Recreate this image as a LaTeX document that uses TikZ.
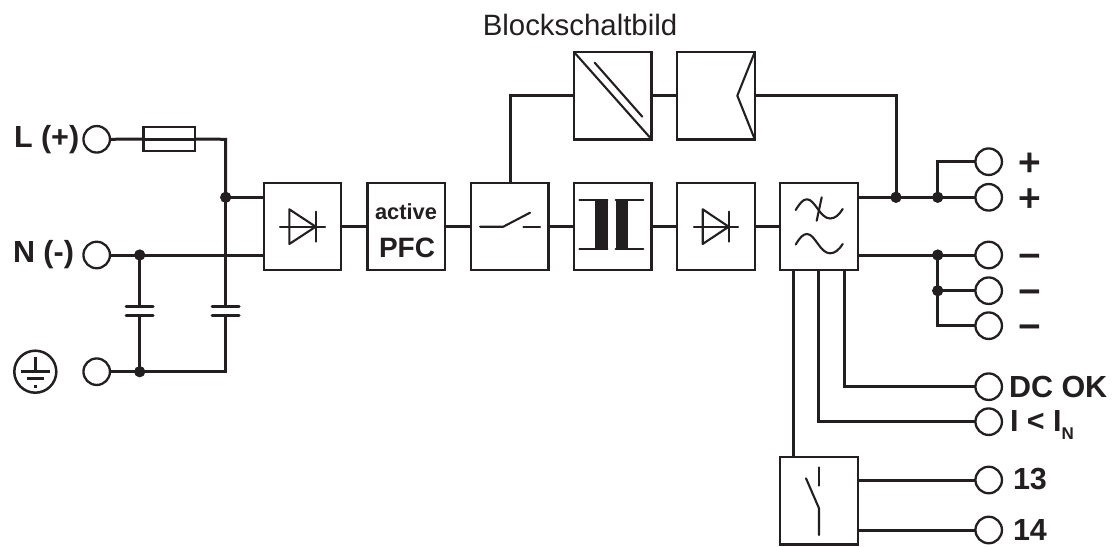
\documentclass[tikz,border=0pt]{standalone}
\usepackage{fontspec}
\setmainfont{Liberation Sans}
\newfontfamily\signfont[FakeBold=1.2]{DejaVu Sans Bold}
\definecolor{ink}{HTML}{231F20}
\newcommand{\fsz}[1]{\fontsize{#1}{#1}\selectfont}
\tikzset{
  wire/.style={draw=ink,line width=3pt},
  sym/.style={draw=ink,line width=2.1pt,line cap=round,line join=round},
  bx/.style={draw=ink,line width=2.3pt,fill=white,rectangle,minimum width=77.6pt,minimum height=87.3pt,inner sep=0pt,outer sep=0pt},
  term/.style={draw=ink,line width=2.3pt,fill=white,circle,minimum size=26.5pt,inner sep=0pt,outer sep=0pt},
  dot/.style={fill=ink,circle,minimum size=11pt,inner sep=0pt,outer sep=0pt},
  lab/.style={text=ink,anchor=base west,inner sep=0pt,outer sep=0pt,font=\fsz{30.5}\bfseries},
  sign/.style={text=ink,anchor=base,inner sep=0pt,outer sep=0pt,font=\fsz{30.5}\signfont},
}
\begin{document}
\begin{tikzpicture}[x=1pt,y=-1pt]
\useasboundingbox[fill=white] (0,0) rectangle (1116,546);
% coordinates on the wires
\coordinate (cl) at (225.7,139.3);
\coordinate (sw) at (510,182.7);
\coordinate (up) at (510,95.7);
\coordinate (s1) at (793,270);
\coordinate (s2) at (818.7,270);
\coordinate (s3) at (844.3,270);
\coordinate (c1a) at (139.7,306);
\coordinate (c1b) at (139.7,315.7);
\coordinate (c2a) at (225.7,306);
\coordinate (c2b) at (225.7,315.7);
\coordinate (gr) at (225.7,371.7);
% terminals
\node[term] (tL) at (96.7,139.3) {};
\node[term] (tN) at (96.7,255) {};
\node[term] (tE) at (96.7,371.7) {};
\node[term] (tp1) at (988.7,161.7) {};
\node[term] (tp2) at (988.7,197.3) {};
\node[term] (tm1) at (988.7,255) {};
\node[term] (tm2) at (988.7,290.7) {};
\node[term] (tm3) at (988.7,325.7) {};
\node[term] (tdc) at (988.7,386.7) {};
\node[term] (tin) at (988.7,421.7) {};
\node[term] (t13) at (988.7,480) {};
\node[term] (t14) at (988.7,530) {};
% boxes
\node[bx] (rect) at (302.5,226.4) {};
\node[bx] (pfc) at (406.2,226.4) {};
\node[bx] (swb) at (509.7,226.4) {};
\node[bx] (trf) at (612.8,226.4) {};
\node[bx] (dio) at (716,226.4) {};
\node[bx] (filt) at (818.85,226.4) {};
\node[bx] (dcdc) at (612.8,95.7) {};
\node[bx] (inv) at (716,95.7) {};
\node[bx] (rel) at (818.85,500.7) {};
\node[draw=ink,line width=2.3pt,fill=white,rectangle,minimum width=51.7pt,minimum height=23.4pt,inner sep=0pt,outer sep=0pt] (fuse) at (169.2,139) {};
% junctions
\node[dot] (jL) at (225.7,197.3) {};
\node[dot] (jN) at (139.7,255) {};
\node[dot] (jE) at (139.7,371.7) {};
\node[dot] (jO) at (896,197.3) {};
\node[dot] (jP) at (937.7,197.3) {};
\node[dot] (jM1) at (937.7,255) {};
\node[dot] (jM2) at (937.7,290.7) {};
% input wiring
\draw[wire] (tL.east) -- (fuse.west);
\draw[wire] (fuse.west) -- (fuse.east);
\draw[wire,line join=miter] (fuse.east) -- (cl) -- (jL.center);
\draw[wire] (jL.center) -- (c2a);
\draw[wire] (jL.center) -- (rect.west |- jL);
\draw[wire] (tN.east) -- (rect.west |- tN);
\draw[wire] (jN.center) -- (c1a);
\draw[wire] (c1b) -- (jE.center);
\draw[wire] (tE.east) -- (jE.center);
\draw[wire,line join=miter] (jE.center) -- (gr) -- (c2b);
\foreach \p in {c1a,c1b,c2a,c2b}{
  \draw[wire,line cap=round] ([xshift=-13.5pt]\p) -- ([xshift=13.5pt]\p);
}
% main chain
\draw[wire] (rect.east) -- (pfc.west);
\draw[wire] (pfc.east) -- (swb.west);
\draw[wire] (swb.east) -- (trf.west);
\draw[wire] (trf.east) -- (dio.west);
\draw[wire] (dio.east) -- (filt.west);
\draw[wire,line join=miter] (sw) -- (up) -- (dcdc.west);
\draw[wire] (dcdc.east) -- (inv.west);
\draw[wire,line join=miter] (inv.east) -- (jO.center |- inv.east) -- (jO.center);
% output wiring
\draw[wire] (filt.east |- jO) -- (tp2.west);
\draw[wire,line join=miter] (jP.center) -- (jP.center |- tp1) -- (tp1.west);
\draw[wire] (filt.east |- jM1) -- (tm1.west);
\draw[wire,line join=miter] (jM1.center) -- (jM1.center |- tm3) -- (tm3.west);
\draw[wire] (jM2.center) -- (tm2.west);
\draw[wire,line join=miter] (s3) -- (s3 |- tdc) -- (tdc.west);
\draw[wire,line join=miter] (s2) -- (s2 |- tin) -- (tin.west);
\draw[wire] (s1) -- (s1 |- rel.north);
\draw[wire] (rel.east |- t13) -- (t13.west);
\draw[wire] (rel.east |- t14) -- (t14.west);
% junction dots on top
\foreach \n in {jL,jN,jE,jO,jP,jM1,jM2}{\fill[ink] (\n) circle (5.5pt);}
% rectifier symbol
\draw[sym] (280,226.7) -- (325,226.7);
\draw[sym] (289.3,209.3) -- (289.3,244) -- (315.7,226.7) -- cycle;
\draw[sym] (315.7,211.7) -- (315.7,241.7);
% switch symbol
\draw[sym] (480,226.7) -- (503.3,226.7) -- (530,212.7);
\draw[sym] (523.3,226.7) -- (540,226.7);
% transformer symbol
\draw[sym] (579.3,200) -- (607.3,200);
\draw[sym] (579.3,249.3) -- (607.3,249.3);
\draw[sym] (615.7,200) -- (643.3,200);
\draw[sym] (615.7,249.3) -- (643.3,249.3);
\fill[ink] (595,199.3) rectangle (607.5,250);
\fill[ink] (615.7,199.3) rectangle (628,250);
% diode symbol
\draw[sym] (694,226.7) -- (738,226.7);
\draw[sym] (702.7,209.3) -- (702.7,244) -- (728.7,226.7) -- cycle;
\draw[sym] (728.7,211.7) -- (728.7,241.7);
% dc/dc symbol
\draw[sym] (dcdc.north west) -- (dcdc.south east);
\draw[sym] (594.7,62.7) -- (642.3,116.7);
% inverter symbol
\draw[sym,line cap=butt] (inv.north east) -- (737.3,95.7) -- (inv.south east);
% filter symbols
\draw[sym] (795.7,210) .. controls (800,203) and (803,199.3) .. (807,199.3) .. controls (815,199.3) and (820,218.5) .. (830,218.5) .. controls (835,218.5) and (839,215) .. (842.7,209);
\draw[sym] (821.7,197.3) -- (816.7,220.7);
\draw[sym] (795.7,244.5) .. controls (800,237.5) and (803,234) .. (807,234) .. controls (815,234) and (820,253.3) .. (830,253.3) .. controls (835,253.3) and (839,249.8) .. (842.7,244);
% relay symbol
\draw[sym] (819,467.3) -- (819,485.7);
\draw[sym] (806,478.3) -- (819,508.3) -- (819,535);
% earth symbol
\draw[draw=ink,line width=2.5pt] (35.3,371.7) circle (21pt);
\draw[draw=ink,line width=2.6pt] (35.3,356.7) -- (35.3,371.7);
\draw[draw=ink,line width=3pt] (21.3,371.7) -- (50,371.7);
\draw[draw=ink,line width=3pt] (26.7,378.3) -- (44,378.3);
\fill[ink] (33.6,385) rectangle (37,388.4);
% texts
\node[lab] (lL) at (14,147.3) {L (+)};
\node[lab] (lN) at (13,262.7) {N (-)};
\node[text=ink,anchor=base,inner sep=0pt,font=\fsz{21.8}\bfseries] (lact) at (406,219.3) {active};
\node[text=ink,anchor=base,inner sep=0pt,font=\fsz{28}\bfseries] (lpfc) at (407,257.3) {PFC};
\node[text=ink,anchor=base,inner sep=0pt,font=\fsz{29.4}] (ltitle) at (580,35) {Blockschaltbild};
\node[sign] (sp1) at (1029.3,172) {+};
\node[sign] (sp2) at (1029.3,207.6) {+};
\node[sign] (sm1) at (1029.3,265.3) {−};
\node[sign] (sm2) at (1029.3,301) {−};
\node[sign] (sm3) at (1029.3,336) {−};
\node[lab] (ldc) at (1009,397.3) {DC OK};
\node[lab] (lin) at (1010,431.7) {I < I\raisebox{-7.3pt}{\fsz{17}\bfseries N}};
\node[lab] (l13) at (1013,489) {13};
\node[lab] (l14) at (1013,540) {14};
\end{tikzpicture}
\end{document}
